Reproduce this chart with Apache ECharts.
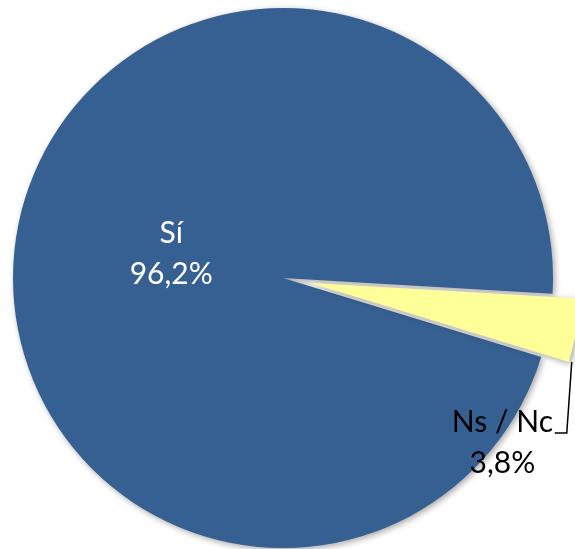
<!DOCTYPE html>
<html>
<head>
<meta charset="utf-8">
<script src="https://cdn.jsdelivr.net/npm/echarts@6/dist/echarts.min.js"></script>
<style>
  html, body { margin: 0; padding: 0; background: #fff; }
  #main { width: 575px; height: 549px; }
</style>
</head>
<body>
<div id="main"></div>
<script>
// datos
const categories = ['Sí', 'Ns / Nc'];
const percents = [96.2, 3.8];
const colors = ['#376092', '#FFFF99'];

const fmt = v => v.toFixed(1).replace('.', ',') + '%';

const center = [283, 278];
const radius = 270;
const startAngle = 343;
const explode = 28;

var chart = echarts.init(document.getElementById('main'));

// esquina inferior del sector separado (para la línea guía)
const total = percents.reduce((a, b) => a + b, 0);
const endDeg = startAngle - 360;                           // borde inferior de Ns / Nc
const midDeg = startAngle - 360 * (percents[0] + percents[1] / 2) / total;
const rad = d => d * Math.PI / 180;
const corner = [
  center[0] + explode * Math.cos(rad(midDeg)) + radius * Math.cos(rad(endDeg)),
  center[1] - explode * Math.sin(rad(midDeg)) - radius * Math.sin(rad(endDeg))
];
const lineY = 433;
const nsOffset = [56, 136];

const option = {
  animation: false,
  series: [
    {
      type: 'pie',
      center: center,
      radius: radius,
      startAngle: startAngle,
      clockwise: true,
      selectedMode: 'multiple',
      selectedOffset: explode,
      emphasis: { disabled: true },
      data: categories.map((name, i) => ({
        name: name,
        value: percents[i],
        selected: i === 1,
        itemStyle: {
          color: colors[i],
          shadowBlur: 6,
          shadowColor: 'rgba(0,0,0,0.35)',
          shadowOffsetX: 2,
          shadowOffsetY: 2
        },
        label: i === 0
          ? { color: '#fff', offset: [24, 0] }
          : { color: '#000', offset: nsOffset },
        select: i === 1 ? { label: { color: '#000', offset: nsOffset } } : undefined
      })),
      label: {
        position: 'inside',
        formatter: p => p.name + '\n' + fmt(p.value),
        fontFamily: 'Lato',
        fontSize: 30,
        lineHeight: 41,
        align: 'center'
      },
      labelLine: { show: false }
    }
  ],
  graphic: [
    {
      type: 'polyline',
      z: 10,
      shape: { points: [[corner[0] + 3, corner[1]], [corner[0] - 2, lineY], [corner[0] - 14, lineY]] },
      style: { stroke: '#000', lineWidth: 1.5, fill: null }
    }
  ]
};

chart.setOption(option);
</script>
</body>
</html>
